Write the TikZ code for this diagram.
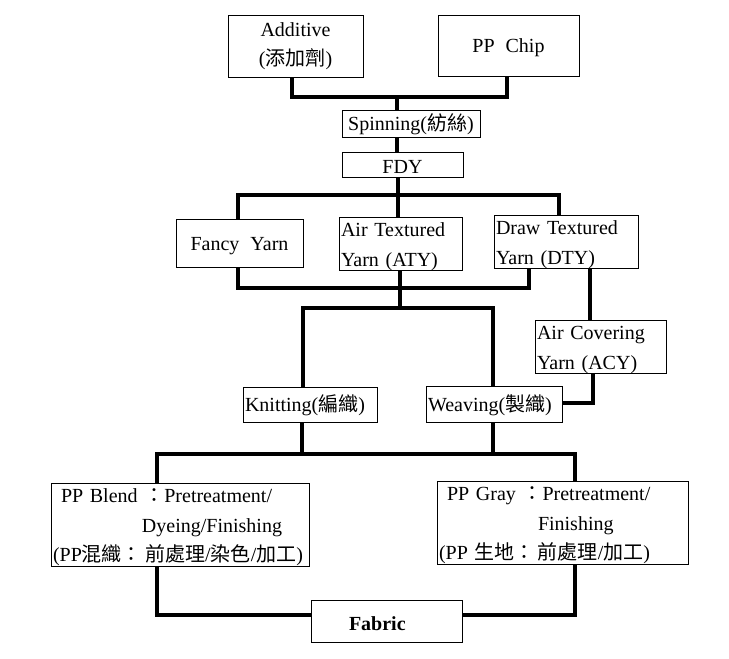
\documentclass[tikz,border=0pt]{standalone}
\usepackage{fontspec}
\setmainfont{Liberation Serif}[WordSpace=2.2]
\newfontfamily\cjk{Noto Sans CJK TC}
\begin{document}
\begin{tikzpicture}[x=1pt,y=-1pt,
  box/.style={draw=black, line width=0.8pt, inner sep=0pt, font=\fontsize{20}{29.5}\selectfont,
    execute at begin node={\rule{0pt}{19pt}}},
  lbox/.style={box, align=left},
  cbox/.style={box, align=center},
  conn/.style={draw=black, line width=3.6pt, line cap=butt, line join=miter}]
\useasboundingbox (0,0) rectangle (729,659);
% boxes
\node[cbox, minimum width=135, minimum height=62] (add) at (295.5,46) {Additive\\({\cjk 添加劑})};
\node[cbox, minimum width=141, minimum height=61] (chip) at (508.5,45.5) {PP Chip};
\node[cbox, minimum width=138, minimum height=27] (spin) at (411,123.5) {Spinning({\cjk 紡絲})};
\node[cbox, minimum width=121, minimum height=25] (fdy) at (402.5,164.5) {FDY};
\node[cbox, minimum width=127, minimum height=48] (fancy) at (239.5,243) {Fancy Yarn};
\node[lbox, text width=119, minimum width=123, minimum height=52] (aty) at (400.5,244) {Air Textured\\Yarn (ATY)};
\node[lbox, text width=140, minimum width=144, minimum height=52] (dty) at (566,242) {Draw Textured\\Yarn (DTY)};
\node[lbox, text width=127, minimum width=131, minimum height=52] (acy) at (600.5,347) {Air Covering\\Yarn (ACY)};
\node[lbox, text width=130, minimum width=134, minimum height=35] (knit) at (310,404.5) {Knitting({\cjk 編織})};
\node[lbox, text width=132, minimum width=136, minimum height=36] (weave) at (494,404) {Weaving({\cjk 製織})};
\node[lbox, text width=254, minimum width=258, minimum height=82] (blend) at (180,525)
  {\hspace*{8pt}PP Blend {\cjk ：}Pretreatment/\\\hspace*{89pt}Dyeing/Finishing\\(PP{\cjk 混織：}\,{\cjk 前處理}/{\cjk 染色}/{\cjk 加工})};
\node[lbox, text width=247, minimum width=251, minimum height=82] (gray) at (562.5,523)
  {\hspace*{8pt}PP Gray {\cjk ：}Pretreatment/\\\hspace*{99pt}Finishing\\(PP {\cjk 生地：}\,{\cjk 前處理}/{\cjk 加工})};
\node[lbox, text width=147, minimum width=151, minimum height=42] (fabric) at (386.5,621) {\hspace*{36pt}\textbf{Fabric}};
% junction coordinates
\coordinate (j1a) at (292,97);
\coordinate (j1b) at (507,97);
\coordinate (j1c) at (397,97);
\coordinate (j2) at (397,137);
\coordinate (j3c) at (398,195);
\coordinate (j3a) at (238,195);
\coordinate (j3b) at (559,195);
\coordinate (j4a) at (238,288);
\coordinate (j4b) at (529,288);
\coordinate (j4c) at (400,308);
\coordinate (j5a) at (303,308);
\coordinate (j5b) at (493,308);
\coordinate (j6) at (590,300);
\coordinate (j7) at (593,403);
\coordinate (j8a) at (302,454);
\coordinate (j8b) at (493,454);
\coordinate (j8l) at (157,454);
\coordinate (j8r) at (575,454);
\coordinate (j9l) at (157,615);
\coordinate (j9r) at (575,615);
% connectors
\draw[conn] (add.south -| j1a) -- (j1a) -- (j1b) -- (chip.south -| j1b);
\draw[conn] (j1c) -- (spin.north -| j1c);
\draw[conn] (spin.south -| j2) -- (fdy.north -| j2);
\draw[conn] (fdy.south -| j3c) -- (j3c);
\draw[conn] (fancy.north -| j3a) -- (j3a) -- (j3b) -- (dty.north -| j3b);
\draw[conn] (j3c) -- (aty.north -| j3c);
\draw[conn] (fancy.south -| j4a) -- (j4a) -- (j4b) -- (dty.south -| j4b);
\draw[conn] (aty.south -| j4c) -- (j4c);
\draw[conn] (knit.north -| j5a) -- (j5a) -- (j5b) -- (weave.north -| j5b);
\draw[conn] (dty.south -| j6) -- (acy.north -| j6);
\draw[conn] (acy.south -| j7) -- (j7) -- (weave.east |- j7);
\draw[conn] (knit.south -| j8a) -- (j8a);
\draw[conn] (weave.south -| j8b) -- (j8b);
\draw[conn] (blend.north -| j8l) -- (j8l) -- (j8r) -- (gray.north -| j8r);
\draw[conn] (blend.south -| j9l) -- (j9l) -- (fabric.west |- j9l);
\draw[conn] (gray.south -| j9r) -- (j9r) -- (fabric.east |- j9r);
\end{tikzpicture}
\end{document}
